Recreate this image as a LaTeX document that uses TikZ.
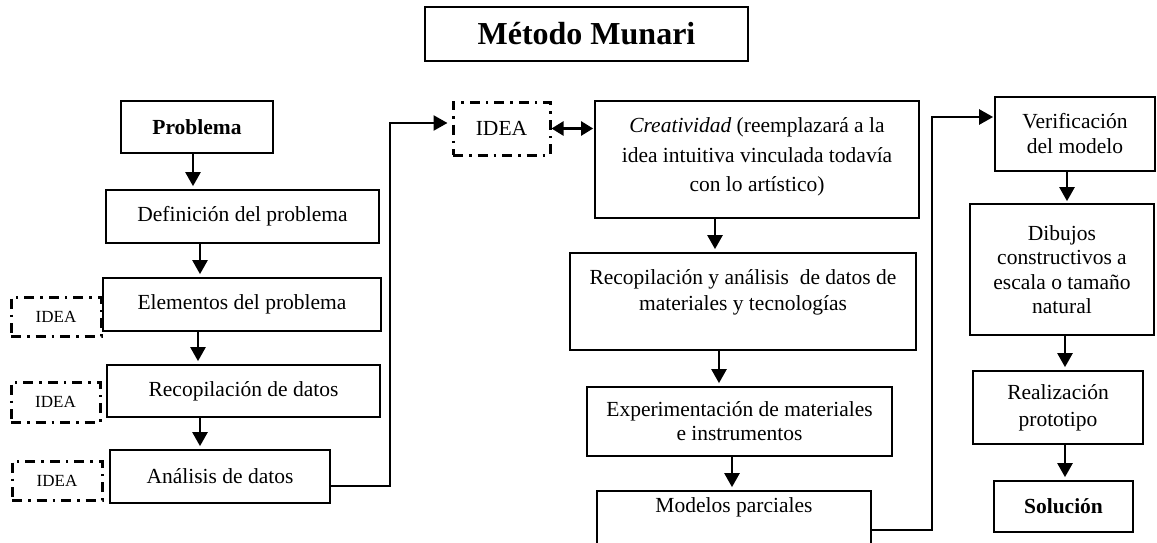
\documentclass[tikz,border=0pt]{standalone}
\usepackage{fontspec}
\setmainfont{Liberation Serif}
\usetikzlibrary{arrows.meta,calc}
\begin{document}
\begin{tikzpicture}[x=1pt,y=-1pt,
  box/.style={draw, line width=1.7pt, align=center, inner sep=0pt, font=\fontsize{21.5}{25}\selectfont},
  boldbox/.style={box, font=\fontsize{21.5}{25}\selectfont\bfseries},
  txt/.style={align=center, inner sep=0pt, font=\fontsize{21.5}{25}\selectfont},
  idea/.style={draw, line width=3pt, dash pattern=on 10pt off 6pt on 2.5pt off 6pt, inner sep=0pt, font=\fontsize{17}{20}\selectfont},
  arr/.style={-{Triangle[length=14pt,width=15pt]}, line width=2.4pt},
  dblarr/.style={{Triangle[length=12pt,width=14pt]}-{Triangle[length=12pt,width=14pt]}, line width=2.4pt}]
\clip (0,0) rectangle (1157,543);
\fill[white] (0,0) rectangle (1157,543);

% title
\node[box, line width=2.6pt, minimum width=323pt, minimum height=54pt, font=\fontsize{32}{38}\selectfont\bfseries] (title) at (586.5,34) {Método Munari};

% left column
\node[boldbox, minimum width=152pt, minimum height=52pt] (prob) at (197,127) {Problema};
\node[box, minimum width=273pt, minimum height=53pt] (def) at (242.5,216.5) {Definición del problema};
\node[box, minimum width=278pt, minimum height=53pt] (elem) at (242,304.5) {Elementos del problema};
\node[box, minimum width=273pt, minimum height=52pt] (rec) at (243.5,391) {Recopilación de datos};
\node[box, minimum width=220pt, minimum height=53pt] (ana) at (220,476.5) {Análisis de datos};

\node[idea, minimum width=90pt, minimum height=39pt] (i1) at (56,316.5) {\raisebox{-3pt}{IDEA}};
\node[idea, minimum width=89pt, minimum height=40pt] (i2) at (55.5,402) {\raisebox{-3pt}{IDEA}};
\node[idea, minimum width=90pt, minimum height=39pt] (i3) at (57,480.5) {\raisebox{-3pt}{IDEA}};
\node[idea, minimum width=97pt, minimum height=53pt, font=\fontsize{21.5}{25}\selectfont] (i0) at (501.5,128.5) {IDEA};

% middle column
\node[box, minimum width=324pt, minimum height=117pt] (crea) at (757,159.5) {};
\node[txt, font=\fontsize{21.5}{29.5}\selectfont] (creaT) at (757,157) {\textit{Creatividad} (reemplazará a la\\idea intuitiva vinculada todavía\\con lo artístico)};
\node[box, minimum width=346pt, minimum height=97pt] (rya) at (743,301.5) {};
\node[txt, font=\fontsize{21.5}{26}\selectfont] (ryaT) at (743,292) {Recopilación y análisis\ \ de datos de\\materiales y tecnologías};
\node[box, minimum width=305pt, minimum height=69pt, font=\fontsize{21.5}{24}\selectfont] (exp) at (739.5,421.5) {Experimentación de materiales\\e instrumentos};
\node[box, minimum width=274pt, minimum height=80pt] (mod) at (734,531) {};
\node[txt] (modT) at (734,507) {Modelos parciales};

% right column
\node[box, minimum width=160pt, minimum height=74pt] (ver) at (1075,134) {Verificación\\del modelo};
\node[box, minimum width=184pt, minimum height=131pt, font=\fontsize{21.5}{24.5}\selectfont] (dib) at (1062,269.5) {Dibujos\\constructivos a\\escala o tamaño\\natural};
\node[box, minimum width=170pt, minimum height=73pt, font=\fontsize{21.5}{27}\selectfont] (real) at (1058,407.5) {Realización\\prototipo};
\node[boldbox, minimum width=139pt, minimum height=51pt] (sol) at (1063.5,506.5) {Solución};

% vertical arrows
\draw[arr, shorten >=3pt] (193,0 |- prob.south) -- (193,0 |- def.north);
\draw[arr, shorten >=3pt] (200,0 |- def.south) -- (200,0 |- elem.north);
\draw[arr, shorten >=3pt] (198,0 |- elem.south) -- (198,0 |- rec.north);
\draw[arr, shorten >=3pt] (200,0 |- rec.south) -- (200,0 |- ana.north);
\draw[arr, shorten >=3pt] (715,0 |- crea.south) -- (715,0 |- rya.north);
\draw[arr, shorten >=3pt] (719,0 |- rya.south) -- (719,0 |- exp.north);
\draw[arr, shorten >=3pt] (732,0 |- exp.south) -- (732,0 |- mod.north);
\draw[arr, shorten >=2pt] (1067,0 |- ver.south) -- (1067,0 |- dib.north);
\draw[arr, shorten >=3pt] (1065,0 |- dib.south) -- (1065,0 |- real.north);
\draw[arr, shorten >=3pt] (1065,0 |- real.south) -- (1065,0 |- sol.north);

% elbow connectors
\coordinate (k1) at (390,123);
\draw[arr, shorten >=4pt] ($(ana.east)+(0,9.5)$) -| (k1) -- (k1 -| i0.west);
\draw[dblarr, shorten >=1pt] (i0.east) -- (i0.east -| crea.west);
\coordinate (k2) at (932,117);
\draw[arr, shorten >=1pt] ($(mod.east)+(0,-1)$) -| (k2) -- (k2 -| ver.west);
\end{tikzpicture}
\end{document}
